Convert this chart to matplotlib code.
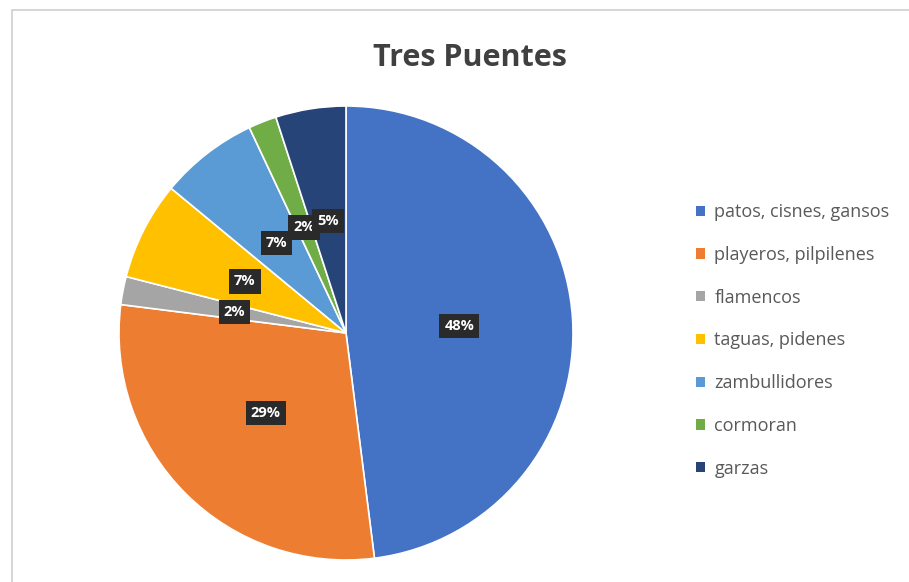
import matplotlib.pyplot as plt
from matplotlib.patches import Rectangle, Patch

# Data
categories = ['patos, cisnes, gansos', 'playeros, pilpilenes', 'flamencos',
              'taguas, pidenes', 'zambullidores', 'cormoran', 'garzas']
values = [48, 29, 2, 7, 7, 2, 5]
colors = ['#4472C4', '#ED7D31', '#A5A5A5', '#FFC000', '#5B9BD5', '#70AD47', '#264478']

plt.rcParams['font.family'] = ['Open Sans', 'DejaVu Sans']

fig = plt.figure(figsize=(9.09, 5.82), dpi=100)

# chart frame (behind everything)
fig.patches.append(Rectangle((12 / 909, -0.05), 1.2, (582 - 10) / 582 + 0.05,
                             transform=fig.transFigure, facecolor='white',
                             edgecolor='#d0d0d0', linewidth=1.2, zorder=-10))

ax = fig.add_axes([(346 - 227) / 909, 22 / 582, 454 / 909, 454 / 582])
wedges, texts, autotexts = ax.pie(
    values, colors=colors, startangle=90, counterclock=False,
    autopct='%1.0f%%', pctdistance=0.5,
    wedgeprops=dict(edgecolor='white', linewidth=1.2),
    textprops=dict(color='white', fontsize=10.5, fontweight='bold'))
for t in autotexts:
    t.set_bbox(dict(boxstyle='square,pad=0.35', facecolor='#2a2a2a', edgecolor='none'))
ax.set_xlim(-1, 1)
ax.set_ylim(-1, 1)
ax.set_aspect('equal')

fig.text(470 / 909, 1 - 58 / 582, 'Tres Puentes', ha='center', va='center',
         fontsize=22, fontweight='bold', color='#404040')

handles = [Patch(facecolor=c, edgecolor='none') for c in colors]
fig.legend(handles, categories, loc='upper left',
           bbox_to_anchor=(680 / 909, 1 - 187 / 582), frameon=False,
           fontsize=13, labelcolor='#595959', handlelength=0.5,
           handleheight=0.5, handletextpad=0.5, labelspacing=1.37)

fig.savefig('out.png', dpi=100)
